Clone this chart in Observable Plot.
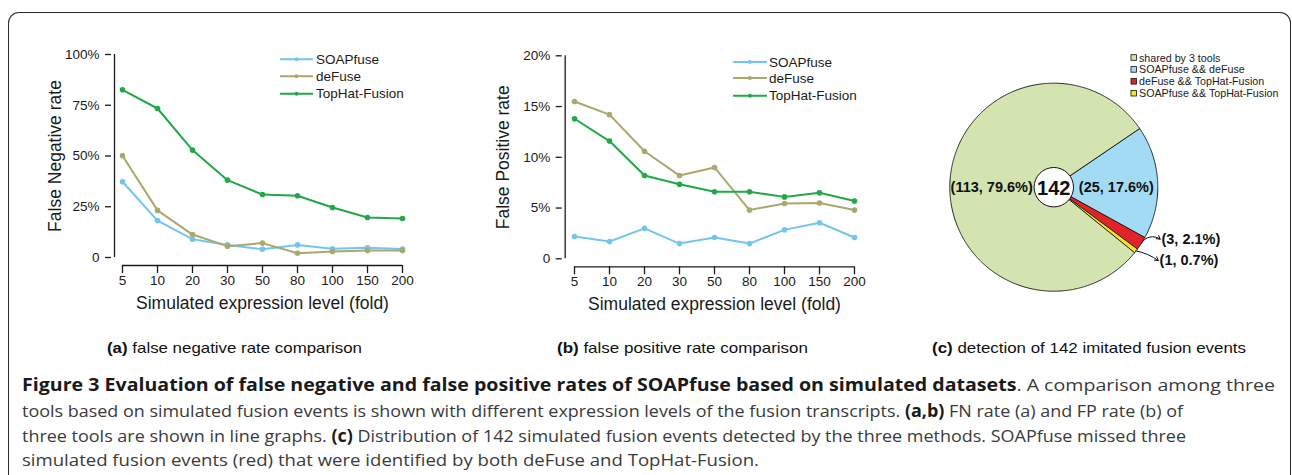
<!DOCTYPE html>
<html><head><meta charset="utf-8">
<script src="https://cdn.jsdelivr.net/npm/d3@7"></script>
<script src="https://cdn.jsdelivr.net/npm/@observablehq/plot@0.6"></script>
<style>
body{margin:0;width:1292px;height:475px;overflow:hidden;background:#fff;position:relative;font-family:"Liberation Sans",Arial,sans-serif;}
#frame{position:absolute;left:8px;top:12px;width:1283px;height:520px;border:1.5px solid #2a2a2a;border-bottom:none;border-radius:11px 11px 0 0;box-sizing:border-box;}
.abs{position:absolute;}
.sub{position:absolute;font-family:"Liberation Sans",Arial,sans-serif;font-size:14.5px;color:#111;white-space:nowrap;line-height:18px;transform-origin:0 50%;}
.cap{position:absolute;left:22px;font-family:"Open Sans",sans-serif;font-size:17px;color:#3a3a3a;white-space:nowrap;line-height:22px;transform-origin:0 50%;}
.cap b{color:#1a1a1a;}
</style></head><body>
<div id="frame"></div>
<div id="pa" class="abs" style="left:0;top:0"></div>
<div id="pb" class="abs" style="left:460px;top:0"></div>
<div id="pc" class="abs" style="left:900px;top:0"></div>
<svg id="legends" class="abs" style="left:0;top:0" width="1292" height="320"></svg>
<div id="subs"></div>
<div id="caps"></div>
<script>
// ---------- data ----------
const levels = ["5","10","20","30","50","80","100","150","200"];
const tools = ["SOAPfuse","deFuse","TopHat-Fusion"];
const toolColors = ["#72c6ee","#aaa86c","#22a847"];
const fnSOAPfuse = [37.3,18.2,9.0,6.2,4.1,6.2,4.3,4.8,4.2];
const fnDeFuse   = [50.1,23.2,11.3,5.6,7.1,2.1,3.0,3.4,3.4];
const fnTopHat   = [82.6,73.4,52.9,38.1,31.0,30.4,24.6,19.7,19.2];
const fpSOAPfuse = [2.2,1.7,3.0,1.5,2.1,1.5,2.85,3.55,2.1];
const fpDeFuse   = [15.5,14.2,10.6,8.2,9.0,4.8,5.45,5.5,4.8];
const fpTopHat   = [13.8,11.6,8.2,7.35,6.6,6.6,6.1,6.5,5.7];
const fnTicks = [0,25,50,75,100];
const fpTicks = [0,5,10,15,20];
const xTitle = "Simulated expression level (fold)";
const fnTitle = "False Negative rate";
const fpTitle = "False Positive rate";
const pieGroups = ["SOAPfuse && deFuse","deFuse && TopHat-Fusion","SOAPfuse && TopHat-Fusion","shared by 3 tools"];
const pieCounts = [25,3,1,113];
const pieColors = ["#a3dbf5","#e2242a","#f3e629","#d4e4b1"];
const pieLegendOrder = ["shared by 3 tools","SOAPfuse && deFuse","deFuse && TopHat-Fusion","SOAPfuse && TopHat-Fusion"];
const pieTotal = 142;
const subCaptions = [["(a)"," false negative rate comparison"],["(b)"," false positive rate comparison"],["(c)"," detection of 142 imitated fusion events"]];
const captionLines = [
 "<b>Figure 3 Evaluation of false negative and false positive rates of SOAPfuse based on simulated datasets</b>. A comparison among three",
 "tools based on simulated fusion events is shown with different expression levels of the fusion transcripts. <b>(a,b)</b> FN rate (a) and FP rate (b) of",
 "three tools are shown in line graphs. <b>(c)</b> Distribution of 142 simulated fusion events detected by the three methods. SOAPfuse missed three",
 "simulated fusion events (red) that were identified by both deFuse and TopHat-Fusion."
];

// ---------- line panels ----------
function linePanel({series, yTicks, yMax, yLabel, width, yAxisX, xRange, yRange, labelDx}) {
  const rows = tools.flatMap((t,k) => levels.map((l,i) => ({level:l, value:series[k][i], tool:t})));
  const height = 320;
  const axisGap = 8;
  return Plot.plot({
    width, height,
    marginLeft: yAxisX,
    marginTop: yRange[1],
    marginBottom: height - (yRange[0] + axisGap),
    marginRight: width - (xRange[0] + xRange[1] - yAxisX),
    style: {fontFamily: "Liberation Sans, Arial, sans-serif", fontSize: "13.5px", color: "#1a1a1a", background: "transparent", overflow: "visible"},
    x: {type: "point", domain: levels, range: xRange, padding: 0, align: 0.5},
    y: {domain: [0, yMax], range: yRange},
    color: {domain: tools, range: toolColors},
    marks: [
      Plot.ruleX([levels[0]], {x: d => d, y1: () => 0, y2: () => yMax, dx: yAxisX - xRange[0], stroke: "#1a1a1a", strokeWidth: 1.3}),
      Plot.ruleY([0], {y: d => d, x1: () => levels[0], x2: () => levels[levels.length-1], dy: axisGap, stroke: "#1a1a1a", strokeWidth: 1.3}),
      Plot.axisY({ticks: yTicks, tickSize: 6, tickPadding: 6, strokeWidth: 1.3, tickFormat: d => d === 0 ? "0" : d + "%", label: null}),
      Plot.axisX({tickSize: 8, tickPadding: 2, strokeWidth: 1.3, label: null}),
      Plot.text([yLabel], {x: () => levels[0], y: () => yMax/2, dx: labelDx, rotate: -90, text: d => d, fontSize: 17.5}),
      Plot.text([xTitle], {x: () => levels[4], y: () => 0, dy: 46, text: d => d, fontSize: 17.5}),
      Plot.line(rows, {x: "level", y: "value", stroke: "tool", strokeWidth: 2}),
      Plot.dot(rows, {x: "level", y: "value", fill: "tool", r: 2.8})
    ]
  });
}

document.getElementById("pa").appendChild(linePanel({
  series: [fnSOAPfuse, fnDeFuse, fnTopHat], yTicks: fnTicks, yMax: 100, yLabel: fnTitle,
  width: 460, yAxisX: 111, xRange: [119, 404], yRange: [257, 54], labelDx: -67
}));
document.getElementById("pb").appendChild(linePanel({
  series: [fpSOAPfuse, fpDeFuse, fpTopHat], yTicks: fpTicks, yMax: 20, yLabel: fpTitle,
  width: 440, yAxisX: 101.7, xRange: [111, 396.7], yRange: [258.3, 55.3], labelDx: -71
}));

// ---------- pie ----------
const pieRows = pieGroups.map((g,i) => ({group: g, count: pieCounts[i]}));
const startA = 55.5 * Math.PI / 180;
const arcs = d3.pie().value(d => d.count).sort(null).startAngle(startA).endAngle(startA + 2*Math.PI)(pieRows);
const polyRows = arcs.flatMap(a => {
  const pts = [{group: a.data.group, x: 0, y: 0}];
  const n = Math.max(2, Math.ceil((a.endAngle - a.startAngle) / 0.01));
  for (let i = 0; i <= n; i++) {
    const t = a.startAngle + (a.endAngle - a.startAngle) * i / n;
    pts.push({group: a.data.group, x: Math.sin(t), y: Math.cos(t)});
  }
  return pts;
});
const pct = c => `(${c}, ${(c / pieTotal * 100).toFixed(1)}%)`;
const midPt = a => { const m = (a.startAngle + a.endAngle) / 2; return [Math.sin(m), Math.cos(m)]; };
const bigArcs = arcs.filter(a => a.data.count >= 10);
const smallArcs = arcs.filter(a => a.data.count < 10);
// label anchor placement (layout)
const smallLabelAt = {"deFuse && TopHat-Fusion": [1.035, -0.50], "SOAPfuse && TopHat-Fusion": [1.017, -0.705]};
const smallBend = {"deFuse && TopHat-Fusion": 50, "SOAPfuse && TopHat-Fusion": 12};

const pie = Plot.plot({
  width: 392, height: 320, margin: 0,
  style: {fontFamily: "Liberation Sans, Arial, sans-serif", background: "transparent", overflow: "visible", color: "#111"},
  x: {domain: [-1, 1], range: [49.3, 257.3], axis: null},
  y: {domain: [-1, 1], range: [290.7, 82.7], axis: null},
  color: {domain: pieGroups, range: pieColors},
  marks: [
    Plot.line(polyRows, {x: "x", y: "y", z: "group", fill: "group", stroke: "#111", strokeWidth: 0.9, curve: "linear-closed", strokeLinejoin: "round"}),
    Plot.dot([pieTotal], {x: () => 0, y: () => 0, r: 19.7, fill: "white", stroke: "#111", strokeWidth: 1}),
    Plot.text([pieTotal], {x: () => 0, y: () => 0, text: d => String(d), fontSize: 20, fontWeight: "bold", dy: 1}),
    Plot.text(bigArcs.filter(a => a.data.group === "shared by 3 tools"), {x: () => 0, y: () => 0, dx: -21, text: a => pct(a.data.count), textAnchor: "end", fontSize: 14.5, fontWeight: "bold"}),
    Plot.text(bigArcs.filter(a => a.data.group !== "shared by 3 tools"), {x: () => 0, y: () => 0, dx: 25, text: a => pct(a.data.count), textAnchor: "start", fontSize: 14.5, fontWeight: "bold"}),
    Plot.text(smallArcs, {x: a => smallLabelAt[a.data.group][0], y: a => smallLabelAt[a.data.group][1], text: a => pct(a.data.count), textAnchor: "start", fontSize: 14.5, fontWeight: "bold"}),
    ...smallArcs.map(a => Plot.arrow([a], {
      x1: d => midPt(d)[0] * 1.0, y1: d => midPt(d)[1] * 1.0,
      x2: d => smallLabelAt[d.data.group][0] - 0.012, y2: d => smallLabelAt[d.data.group][1],
      bend: smallBend[a.data.group], stroke: "#111", strokeWidth: 1, headLength: 6
    }))
  ]
});
document.getElementById("pc").appendChild(pie);

// ---------- legends ----------
const NS = "http://www.w3.org/2000/svg";
const lg = document.getElementById("legends");
function el(tag, attrs, text) { const e = document.createElementNS(NS, tag); for (const k in attrs) e.setAttribute(k, attrs[k]); if (text) e.textContent = text; lg.appendChild(e); return e; }
function lineLegend(x0, x1, ys, tx) {
  tools.forEach((t, i) => {
    el("line", {x1: x0, x2: x1, y1: ys[i], y2: ys[i], stroke: toolColors[i], "stroke-width": 2});
    el("circle", {cx: (x0 + x1) / 2, cy: ys[i], r: 2, fill: toolColors[i]});
    el("text", {x: tx, y: ys[i], "dominant-baseline": "central", "font-size": 13.5, fill: "#1a1a1a", "font-family": "Liberation Sans, Arial"}, t);
  });
}
lineLegend(280, 313, [59.3, 76.3, 93.8], 316);
lineLegend(733, 767, [62, 78, 95.7], 769);
pieLegendOrder.forEach((g, i) => {
  const y = 57.5 + i * 11.9;
  el("rect", {x: 1131, y: y - 2.8, width: 5.6, height: 5.6, fill: pieColors[pieGroups.indexOf(g)], stroke: "#111", "stroke-width": 0.8});
  el("text", {x: 1139, y: y, "dominant-baseline": "central", "font-size": 10.7, fill: "#1a1a1a", "font-family": "Liberation Sans, Arial"}, g);
});

// ---------- captions ----------
const subPos = [[107, 255], [557, 251], [932, 314]];
const subs = document.getElementById("subs");
subCaptions.forEach((s, i) => {
  const d = document.createElement("div");
  d.className = "sub";
  d.style.left = subPos[i][0] + "px"; d.style.top = (348 - 9) + "px";
  d.innerHTML = `<b>${s[0]}</b>${s[1]}`;
  subs.appendChild(d);
  const w = d.getBoundingClientRect().width;
  d.style.transform = `scaleX(${subPos[i][1] / w})`;
});
const capY = [385, 411, 436, 460];
const capW = [1253, 1161, 1164, 737];
const caps = document.getElementById("caps");
captionLines.forEach((c, i) => {
  const d = document.createElement("div");
  d.className = "cap";
  d.style.top = (capY[i] - 11) + "px";
  d.innerHTML = c;
  caps.appendChild(d);
  const w = d.getBoundingClientRect().width;
  d.style.transform = `scaleX(${capW[i] / w})`;
});
</script>
</body></html>
